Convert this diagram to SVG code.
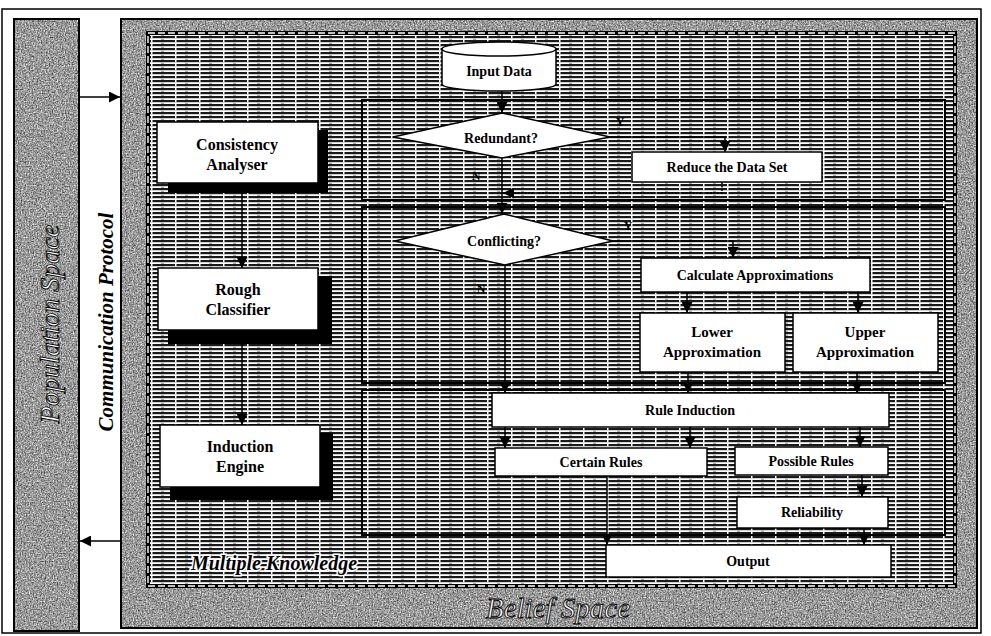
<svg xmlns="http://www.w3.org/2000/svg" width="991" height="636" viewBox="0 0 991 636">
<defs>
<style>
.lbl{font-family:"Liberation Serif","Times New Roman",serif;font-weight:bold;font-size:14px;fill:#000;text-anchor:middle;dominant-baseline:central}
.big{font-size:16px}
.mid{font-size:15px}
.yn{font-size:12px}
.box{fill:#fff;stroke:#000;stroke-width:1.5}
.shadow{fill:#000}
.conn{stroke:#000;stroke-width:1.5;fill:none}
.frame{fill:none;stroke:#000;stroke-width:2}
.title{font-family:"Liberation Serif","Times New Roman",serif;font-style:italic;text-anchor:middle}
</style>
<marker id="ah" viewBox="0 0 10 10" refX="10" refY="5" markerWidth="11" markerHeight="11" markerUnits="userSpaceOnUse" orient="auto"><path d="M0,0 L10,5 L0,10 z" fill="#000"/></marker>
<filter id="grain" x="0" y="0" width="1" height="1" color-interpolation-filters="sRGB">
<feTurbulence type="fractalNoise" baseFrequency="0.75" numOctaves="2" seed="4" result="n"/>
<feColorMatrix in="n" type="matrix" values="1.1 0 0 0 0.05  1.1 0 0 0 0.05  1.1 0 0 0 0.05  0 0 0 0 1"/>
</filter>
<pattern id="hatch" width="24" height="4" patternUnits="userSpaceOnUse">
<rect width="24" height="4" fill="#fff"/>
<rect width="24" height="2.2" fill="#1a1a1a"/>
<rect x="7" width="1.5" height="2.2" fill="#fff"/>
<rect x="17" y="2.8" width="3" height="0.8" fill="#777"/>
</pattern>
</defs>
<rect width="991" height="636" fill="#fff"/>
<rect x="2" y="9" width="979" height="624" fill="none" stroke="#000" stroke-width="1.5"/>

<g id="population-space">
<rect x="14" y="19" width="65" height="612" fill="#999" filter="url(#grain)"/>
<rect x="14" y="19" width="65" height="612" class="frame"/>
<text class="title" transform="translate(49,324) rotate(-90)" font-size="28" fill="#fff" stroke="#000" stroke-width="0.9" dominant-baseline="central">Population Space</text>
</g>

<text class="title" transform="translate(106,322) rotate(-90)" font-size="21" font-weight="bold" fill="#000" dominant-baseline="central">Communication Protocol</text>

<g id="belief-space">
<rect x="121" y="19" width="856" height="609" fill="#999" filter="url(#grain)"/>
<rect x="121" y="19" width="856" height="609" class="frame"/>
<rect x="148" y="33" width="807" height="553" fill="url(#hatch)"/>
<rect x="148" y="33" width="807" height="553" fill="none" stroke="#000" stroke-width="4"/>
<rect x="148" y="33" width="807" height="553" fill="none" stroke="#fff" stroke-width="1.4" stroke-dasharray="7 3"/>
<text class="title" x="558" y="608" font-size="29" fill="#fff" stroke="#000" stroke-width="0.9" dominant-baseline="central">Belief Space</text>
</g>

<g id="multiple-knowledge">
<text class="title" x="274" y="563" font-size="20" font-weight="bold" fill="#000" stroke="#fff" stroke-width="3" paint-order="stroke" dominant-baseline="central">Multiple Knowledge</text>
</g>

<g id="frames">
<rect x="362" y="100" width="583" height="100" class="frame"/>
<rect x="362" y="207" width="583" height="176" class="frame"/>
<rect x="362" y="390" width="583" height="145" class="frame"/>
</g>

<g id="consistency-analyser">
<rect x="168" y="130" width="160" height="63" class="shadow"/>
<rect x="157" y="122" width="161" height="61" class="box"/>
<text class="lbl big" x="237" y="144">Consistency</text>
<text class="lbl big" x="237" y="164">Analyser</text>
</g>
<g id="rough-classifier">
<rect x="168" y="276" width="164" height="68" class="shadow"/>
<rect x="158" y="268" width="160" height="62" class="box"/>
<text class="lbl big" x="238" y="289">Rough</text>
<text class="lbl big" x="238" y="309">Classifier</text>
</g>
<g id="induction-engine">
<rect x="170" y="433" width="163" height="67" class="shadow"/>
<rect x="160" y="425" width="160" height="62" class="box"/>
<text class="lbl big" x="240" y="446">Induction</text>
<text class="lbl big" x="240" y="466">Engine</text>
</g>

<g id="input-data">
<path d="M442,49 A57,7 0 0 1 556,49 L556,84 A57,7 0 0 1 442,84 Z" class="box"/>
<path d="M442,49 A57,7 0 0 0 556,49" class="conn"/>
<text class="lbl" x="499" y="71">Input Data</text>
</g>
<g id="redundant">
<polygon points="502,113 610,137 502,158 393,137" class="box"/>
<text class="lbl" x="501" y="138">Redundant?</text>
</g>
<g id="reduce-data-set">
<rect x="632" y="152" width="190" height="30" class="box"/>
<text class="lbl" x="727" y="167">Reduce the Data Set</text>
</g>
<g id="conflicting">
<polygon points="504,214 613,241 505,265 395,241" class="box"/>
<text class="lbl" x="504" y="241">Conflicting?</text>
</g>
<g id="calculate-approximations">
<rect x="641" y="258" width="229" height="34" class="box"/>
<text class="lbl" x="755" y="275">Calculate Approximations</text>
</g>
<g id="lower-approximation">
<rect x="640" y="313" width="145" height="59" class="box"/>
<text class="lbl mid" x="712" y="332">Lower</text>
<text class="lbl mid" x="712" y="352">Approximation</text>
</g>
<g id="upper-approximation">
<rect x="793" y="313" width="145" height="59" class="box"/>
<text class="lbl mid" x="865" y="332">Upper</text>
<text class="lbl mid" x="865" y="352">Approximation</text>
</g>
<g id="rule-induction">
<rect x="492" y="393" width="397" height="34" class="box"/>
<text class="lbl" x="690" y="410">Rule Induction</text>
</g>
<g id="certain-rules">
<rect x="495" y="448" width="212" height="28" class="box"/>
<text class="lbl" x="601" y="462">Certain Rules</text>
</g>
<g id="possible-rules">
<rect x="735" y="447" width="153" height="28" class="box"/>
<text class="lbl" x="811" y="461">Possible Rules</text>
</g>
<g id="reliability">
<rect x="737" y="497" width="151" height="31" class="box"/>
<text class="lbl" x="812" y="512">Reliability</text>
</g>
<g id="output">
<rect x="606" y="545" width="285" height="32" class="box"/>
<text class="lbl" x="748" y="561">Output</text>
</g>

<g id="connectors">
<path d="M79,97 H120" class="conn" stroke-width="2" marker-end="url(#ah)"/>
<path d="M121,541 H80" class="conn" stroke-width="2" marker-end="url(#ah)"/>
<path d="M242,193 V268" class="conn" marker-end="url(#ah)"/>
<path d="M242,344 V425" class="conn" marker-end="url(#ah)"/>
<path d="M502,91 V113" class="conn" marker-end="url(#ah)"/>
<path d="M610,137 H725 V152" class="conn" marker-end="url(#ah)"/>
<path d="M502,158 V214" class="conn" marker-end="url(#ah)"/>
<path d="M722,182 V193 H503" class="conn" stroke-width="3" stroke-dasharray="2 1.5" marker-end="url(#ah)"/>
<path d="M613,241 H733 V258" class="conn" marker-end="url(#ah)"/>
<path d="M505,265 V393" class="conn" marker-end="url(#ah)"/>
<path d="M687,292 V313" class="conn" marker-end="url(#ah)"/>
<path d="M858,292 V313" class="conn" marker-end="url(#ah)"/>
<path d="M688,372 V393" class="conn" marker-end="url(#ah)"/>
<path d="M857,372 V393" class="conn" marker-end="url(#ah)"/>
<path d="M505,427 V448" class="conn" marker-end="url(#ah)"/>
<path d="M690,427 V448" class="conn" marker-end="url(#ah)"/>
<path d="M860,427 V447" class="conn" marker-end="url(#ah)"/>
<path d="M862,475 V497" class="conn" marker-end="url(#ah)"/>
<path d="M607,476 V545" class="conn" marker-end="url(#ah)"/>
<path d="M864,528 V545" class="conn" marker-end="url(#ah)"/>
<text class="lbl yn" x="620" y="122">Y</text>
<text class="lbl yn" x="476" y="176">N</text>
<text class="lbl yn" x="628" y="226">Y</text>
<text class="lbl yn" x="481" y="289">N</text>
</g>
</svg>
